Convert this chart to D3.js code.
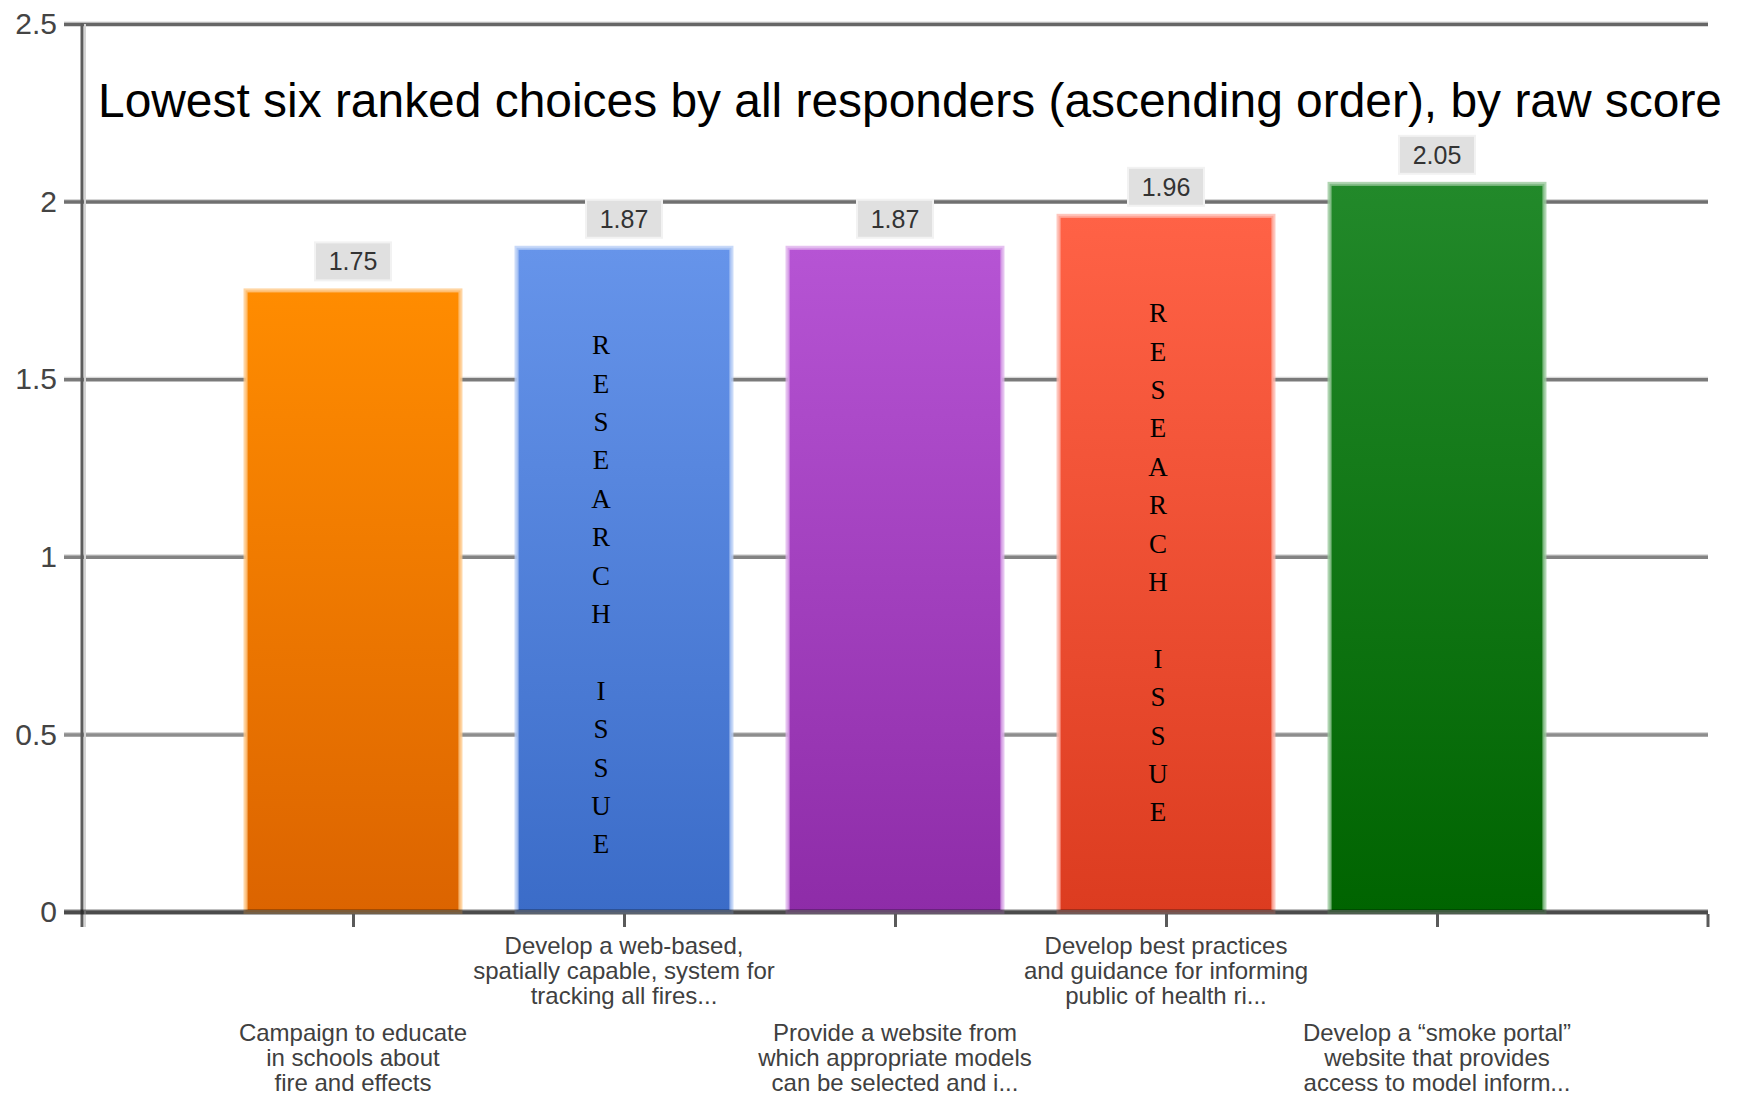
<!DOCTYPE html>
<html>
<head>
<meta charset="utf-8">
<script src="https://cdn.jsdelivr.net/npm/d3@7"></script>
<style>
  body { margin: 0; background: #fff; }
  svg { display: block; }
</style>
</head>
<body>
<div id="chart"></div>
<script>
// ***** DATA *****
var categories = [
    "Campaign to educate in schools about fire and effects",
    "Develop a web-based, spatially capable, system for tracking all fires...",
    "Provide a website from which appropriate models can be selected and i...",
    "Develop best practices and guidance for informing public of health ri...",
    "Develop a \u201csmoke portal\u201d website that provides access to model inform..."
];
var labelLines = [
    ["Campaign to educate", "in schools about", "fire and effects"],
    ["Develop a web-based,", "spatially capable, system for", "tracking all fires..."],
    ["Provide a website from", "which appropriate models", "can be selected and i..."],
    ["Develop best practices", "and guidance for informing", "public of health ri..."],
    ["Develop a \u201csmoke portal\u201d", "website that provides", "access to model inform..."]
];
var scores = [1.75, 1.87, 1.87, 1.96, 2.05];
var yTicks = [0, 0.5, 1, 1.5, 2, 2.5];
var researchIssue = [false, true, false, true, false];
var titleText = "Lowest six ranked choices by all responders (ascending order), by raw score";

// bar colours, top and bottom of each gradient
var topColors = ["#ff8c00", "#6694ea", "#b654d4", "#ff6246", "#22892a"];
var bottomColors = ["#dc6400", "#3b6cc8", "#8e2ca8", "#dc3c20", "#006400"];

var width = 1745, height = 1096;
var left = 82, right = 1708, gridLeft = 64;

var svg = d3.select("#chart").append("svg")
    .attr("width", width)
    .attr("height", height);

var x = d3.scalePoint()
    .domain(categories)
    .range([left, right])
    .padding(1);

var y = d3.scaleLinear()
    .domain([0, 2.5])
    .range([912, 24]);

var barWidth = x.step() * 0.793;

// gradients
var defs = svg.append("defs");
categories.forEach(function(c, i) {
    var g = defs.append("linearGradient")
        .attr("id", "grad" + i)
        .attr("x1", 0).attr("y1", 0).attr("x2", 0).attr("y2", 1);
    g.append("stop").attr("offset", "0%").attr("stop-color", topColors[i]);
    g.append("stop").attr("offset", "100%").attr("stop-color", bottomColors[i]);
});

// ***** GRIDLINES + Y LABELS *****
var gridShade = d3.interpolateRgb("#979797", "#666666");

var yAxis = svg.append("g")
    .attr("transform", "translate(" + gridLeft + ",0)")
    .call(d3.axisLeft(y)
        .tickValues(yTicks)
        .tickFormat(function(d) { return d; })
        .tickSize(-(right - gridLeft))
        .tickPadding(7));

yAxis.select(".domain").remove();
yAxis.selectAll(".tick line")
    .attr("stroke", function(d) { return gridShade(d / 2.5); })
    .attr("stroke-width", 3.5);
yAxis.selectAll(".tick").filter(function(d) { return d > 0; })
    .insert("line", "line")
    .attr("x2", right - gridLeft)
    .attr("y1", -2).attr("y2", -2)
    .attr("stroke", "#d6d6d6")
    .attr("stroke-width", 2);
yAxis.selectAll(".tick text")
    .attr("fill", "#444")
    .style("font-family", "'Liberation Sans', Arial, sans-serif")
    .style("font-size", "30px");

// vertical axis line
svg.append("line")
    .attr("x1", left + 3).attr("x2", left + 3)
    .attr("y1", y(2.5)).attr("y2", 927)
    .attr("stroke", "#d4d4d4").attr("stroke-width", 2);
svg.append("line")
    .attr("x1", left).attr("x2", left)
    .attr("y1", y(2.5) - 1).attr("y2", 927)
    .attr("stroke", "#5c5c5c").attr("stroke-width", 3);

// ***** BARS *****
svg.selectAll(".bar")
    .data(scores)
    .enter()
    .append("rect")
    .attr("class", "bar")
    .attr("x", function(d, i) { return x(categories[i]) - barWidth / 2; })
    .attr("y", function(d) { return y(d); })
    .attr("width", barWidth)
    .attr("height", function(d) { return y(0) - y(d); })
    .attr("fill", function(d, i) { return "url(#grad" + i + ")"; })
    .attr("stroke", function(d, i) { return d3.interpolateRgb(topColors[i], "#ffffff")(0.55); })
    .attr("stroke-opacity", 0.8)
    .attr("stroke-width", 4);

// baseline drawn over bars
var xAxis = svg.append("g")
    .attr("transform", "translate(0," + y(0) + ")")
    .call(d3.axisBottom(x).tickSize(15).tickFormat(""));
xAxis.select(".domain").remove();
xAxis.insert("line", ":first-child")
    .attr("x1", gridLeft).attr("x2", right)
    .attr("stroke", "#000").attr("stroke-opacity", 0.5)
    .attr("stroke-width", 5);
xAxis.selectAll(".tick line")
    .attr("y1", 2)
    .attr("stroke", "#5a5a5a")
    .attr("stroke-width", 3);
xAxis.append("line")
    .attr("x1", right).attr("x2", right)
    .attr("y1", 2).attr("y2", 15)
    .attr("stroke", "#5a5a5a").attr("stroke-width", 3);

// ***** VALUE LABELS *****
var valueLabel = svg.selectAll(".value")
    .data(scores)
    .enter()
    .append("g")
    .attr("class", "value")
    .attr("transform", function(d, i) {
        return "translate(" + x(categories[i]) + "," + (y(d) - 29) + ")";
    });

valueLabel.append("rect")
    .attr("x", -38).attr("y", -19)
    .attr("width", 76).attr("height", 38)
    .attr("fill", "#e0e0e0")
    .attr("stroke", "#f2f2f2")
    .attr("stroke-width", 2);

valueLabel.append("text")
    .attr("text-anchor", "middle")
    .attr("dy", "0.36em")
    .attr("fill", "#333")
    .style("font-family", "'Liberation Sans', Arial, sans-serif")
    .style("font-size", "25px")
    .text(function(d) { return d3.format(".2f")(d); });

// ***** RESEARCH ISSUE NOTES *****
var noteLetters = "RESEARCH ISSUE".split("");
var noteOffsets = [0, -23, 0, -8, 0];

categories.forEach(function(c, i) {
    if (!researchIssue[i]) return;
    var note = svg.append("text")
        .attr("x", x(c) + noteOffsets[i])
        .attr("y", y(scores[i]) + 97)
        .attr("text-anchor", "middle")
        .attr("fill", "#000")
        .style("font-family", "'Liberation Serif', 'Times New Roman', serif")
        .style("font-size", "27px");
    noteLetters.forEach(function(ch, k) {
        note.append("tspan")
            .attr("x", x(c) + noteOffsets[i])
            .attr("y", y(scores[i]) + 97 + k * 38.4)
            .attr("dy", "0.35em")
            .text(ch === " " ? "\u00a0" : ch);
    });
});

// ***** CATEGORY LABELS *****
var catLabel = svg.selectAll(".cat")
    .data(labelLines)
    .enter()
    .append("text")
    .attr("class", "cat")
    .attr("text-anchor", "middle")
    .attr("fill", "#404040")
    .style("font-family", "'Liberation Sans', Arial, sans-serif")
    .style("font-size", "24px");

catLabel.each(function(lines, i) {
    var firstY = (i % 2 === 0) ? 1033 : 946;
    var t = d3.select(this);
    lines.forEach(function(line, k) {
        t.append("tspan")
            .attr("x", x(categories[i]))
            .attr("y", firstY + k * 25)
            .attr("dy", "0.32em")
            .text(line);
    });
});

// ***** TITLE *****
svg.append("text")
    .attr("x", 98)
    .attr("y", 117)
    .attr("fill", "#000")
    .style("font-family", "'Liberation Sans', Arial, sans-serif")
    .style("font-size", "48px")
    .attr("textLength", 1624)
    .attr("lengthAdjust", "spacingAndGlyphs")
    .text(titleText);
</script>
</body>
</html>
